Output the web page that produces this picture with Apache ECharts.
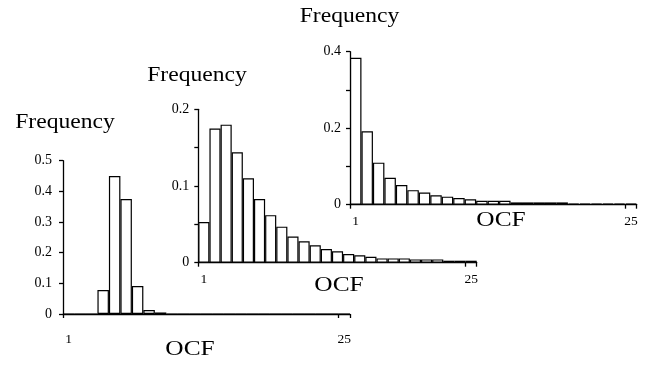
<!DOCTYPE html>
<html>
<head>
<meta charset="utf-8">
<script src="https://cdn.jsdelivr.net/npm/echarts@6/dist/echarts.min.js"></script>
<style>html,body{margin:0;padding:0;background:#fff}#c{width:652px;height:367px}</style>
</head>
<body>
<div id="c"></div>
<script>
// OCF bins 1..25
var bins = ['1','2','3','4','5','6','7','8','9','10','11','12','13','14','15','16','17','18','19','20','21','22','23','24','25'];
// lower-left histogram
var freqA = [0,0,0,0.078,0.45,0.375,0.091,0.013,0.005,0,0,0,0,0,0,0,0,0,0,0,0,0,0,0,0];
// middle histogram
var freqB = [0.053,0.175,0.180,0.144,0.110,0.083,0.062,0.047,0.034,0.028,0.0226,0.0178,0.0148,0.0113,0.0096,0.0078,0.0056,0.0056,0.0056,0.0043,0.0043,0.0043,0.0026,0.0026,0.0026];
// upper-right histogram
var freqC = [0.384,0.192,0.110,0.0706,0.0514,0.038,0.032,0.0245,0.021,0.0175,0.014,0.0105,0.0105,0.0105,0.006,0.006,0.006,0.006,0.006,0.003,0.003,0.003,0.003,0.003,0.003];
var yTitle = 'Frequency';
var xTitle = 'OCF';

var FONT = 'Liberation Serif';
var chart = echarts.init(document.getElementById('c'), null, {renderer: 'canvas'});

function xAxis(idx, margin) {
  return {
    type: 'category', gridIndex: idx, data: bins, boundaryGap: true,
    axisLine: {show: true, lineStyle: {color: '#000', width: 1.3}},
    axisTick: {show: true, length: 4, lineStyle: {color: '#000', width: 1.3}},
    axisLabel: {interval: function (i) { return i === 0 || i === bins.length - 1; },
      margin: margin, fontFamily: FONT, fontSize: 13.5, color: '#000'},
    splitLine: {show: false}
  };
}
function yAxis(idx, max, interval, labelStep, margin) {
  return {
    type: 'value', gridIndex: idx, min: 0, max: max, interval: interval,
    axisLine: {show: true, lineStyle: {color: '#000', width: 1.3}},
    axisTick: {show: true, length: 4, lineStyle: {color: '#000', width: 1.3}},
    axisLabel: {margin: margin, fontFamily: FONT, fontSize: 14, color: '#000',
      formatter: function (v) {
        var k = Math.round(v / labelStep * 1000) / 1000;
        if (Math.abs(k - Math.round(k)) > 1e-6) return '';
        var r = Math.round(v * 100) / 100;
        return r === 0 ? '0' : String(r);
      }},
    splitLine: {show: false}
  };
}
function bar(idx, data) {
  return {
    type: 'bar', xAxisIndex: idx, yAxisIndex: idx, data: data,
    barCategoryGap: '0%', barGap: '0%',
    itemStyle: {color: '#fff', borderColor: '#000', borderWidth: 1.2},
    silent: true, animation: false
  };
}
function txt(x, y, s, size) {
  return {type: 'text', x: x, y: y, scaleX: 1.18,
    style: {x: 0, y: 0, text: s, font: size + 'px "' + FONT + '"', fill: '#000',
      textAlign: 'center', textVerticalAlign: 'middle'}};
}

chart.setOption({
  animation: false,
  backgroundColor: '#fff',
  grid: [
    {left: 63, top: 160.7, width: 287, height: 153.3},
    {left: 198.3, top: 109.3, width: 278.4, height: 153.4},
    {left: 350, top: 51.7, width: 286.7, height: 153}
  ],
  xAxis: [xAxis(0, 18), xAxis(1, 10), xAxis(2, 10)],
  yAxis: [yAxis(0, 0.5, 0.1, 0.1, 11), yAxis(1, 0.2, 0.05, 0.1, 9), yAxis(2, 0.4, 0.1, 0.2, 9)],
  series: [bar(0, freqA), bar(1, freqB), bar(2, freqC)],
  graphic: [
    txt(65, 123, yTitle, 20),
    txt(197, 76, yTitle, 20),
    txt(349.5, 17, yTitle, 20),
    txt(190, 349, xTitle, 21.5),
    txt(339, 285, xTitle, 21.5),
    txt(501, 220, xTitle, 21.5)
  ]
});
</script>
</body>
</html>
